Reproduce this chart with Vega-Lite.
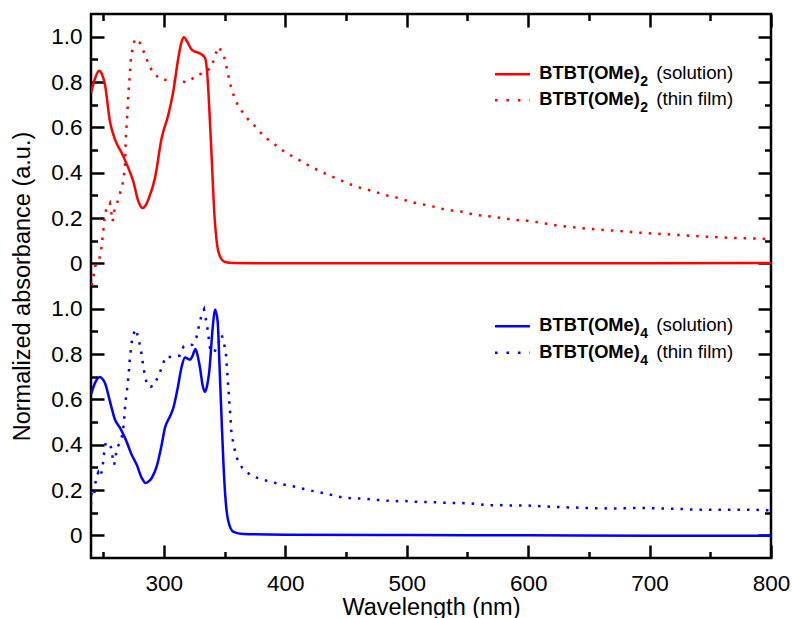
{
  "$schema": "https://vega.github.io/schema/vega-lite/v6.json",
  "autosize": {"type": "none"},
  "padding": {"left": 91, "top": 14, "right": 21, "bottom": 60},
  "width": 680,
  "height": 544,
  "background": "white",
  "datasets": {
    "redSolution": [
      {"nm":240,"a":0.752},{"nm":243,"a":0.81},{"nm":246.6,"a":0.85},{"nm":249,"a":0.835},{"nm":251.5,"a":0.788},{"nm":255.6,"a":0.626},{"nm":259.8,"a":0.546},{"nm":265.3,"a":0.487},{"nm":270.7,"a":0.421},{"nm":274.8,"a":0.362},{"nm":279,"a":0.274},{"nm":282.3,"a":0.244},{"nm":285,"a":0.255},{"nm":287.2,"a":0.281},{"nm":292.7,"a":0.377},{"nm":298.2,"a":0.553},{"nm":303.7,"a":0.656},{"nm":307.8,"a":0.759},{"nm":311.9,"a":0.906},{"nm":314.5,"a":0.975},{"nm":316.6,"a":0.997},{"nm":319,"a":0.98},{"nm":322.9,"a":0.943},{"nm":325,"a":0.935},{"nm":327,"a":0.932},{"nm":331.2,"a":0.921},{"nm":333.9,"a":0.906},{"nm":335.8,"a":0.832},{"nm":337.4,"a":0.685},{"nm":339.4,"a":0.465},{"nm":341.3,"a":0.244},{"nm":343.5,"a":0.097},{"nm":346.2,"a":0.031},{"nm":350.3,"a":0.006},{"nm":357,"a":0.001},{"nm":400,"a":0},{"nm":500,"a":0},{"nm":600,"a":0},{"nm":700,"a":0},{"nm":800,"a":0.001}
    ],
    "redFilm": [
      {"nm":240.5,"a":-0.098},{"nm":242,"a":-0.06},{"nm":243.3,"a":-0.013},{"nm":244.7,"a":0.0},{"nm":246.5,"a":0.01},{"nm":248.2,"a":0.053},{"nm":250.1,"a":0.141},{"nm":251.5,"a":0.222},{"nm":253.5,"a":0.25},{"nm":255.6,"a":0.266},{"nm":257.8,"a":0.185},{"nm":259.5,"a":0.24},{"nm":261.1,"a":0.259},{"nm":263.9,"a":0.31},{"nm":266.6,"a":0.362},{"nm":268,"a":0.435},{"nm":268.8,"a":0.568},{"nm":269.9,"a":0.656},{"nm":270.7,"a":0.744},{"nm":271.9,"a":0.825},{"nm":272.9,"a":0.906},{"nm":274.3,"a":0.95},{"nm":276.2,"a":0.991},{"nm":280.4,"a":0.972},{"nm":283.9,"a":0.928},{"nm":286.7,"a":0.887},{"nm":290.8,"a":0.844},{"nm":296.8,"a":0.813},{"nm":304.5,"a":0.807},{"nm":312.5,"a":0.801},{"nm":320.2,"a":0.8},{"nm":327.5,"a":0.832},{"nm":334,"a":0.84},{"nm":339.6,"a":0.869},{"nm":341.6,"a":0.91},{"nm":344.9,"a":0.955},{"nm":349,"a":0.925},{"nm":350.9,"a":0.884},{"nm":352.6,"a":0.843},{"nm":354.2,"a":0.8},{"nm":356.4,"a":0.759},{"nm":359.2,"a":0.715},{"nm":363.8,"a":0.674},{"nm":369.6,"a":0.634},{"nm":376.2,"a":0.599},{"nm":382.5,"a":0.559},{"nm":390.5,"a":0.528},{"nm":398.1,"a":0.497},{"nm":405.8,"a":0.472},{"nm":413.8,"a":0.449},{"nm":421.4,"a":0.425},{"nm":429.4,"a":0.405},{"nm":437.1,"a":0.386},{"nm":445,"a":0.368},{"nm":452.7,"a":0.35},{"nm":460.4,"a":0.335},{"nm":468.3,"a":0.324},{"nm":476.1,"a":0.312},{"nm":484,"a":0.299},{"nm":491.8,"a":0.29},{"nm":499.7,"a":0.277},{"nm":507.4,"a":0.266},{"nm":515.3,"a":0.258},{"nm":523,"a":0.249},{"nm":531,"a":0.238},{"nm":538.7,"a":0.232},{"nm":546.6,"a":0.227},{"nm":554.3,"a":0.216},{"nm":562.2,"a":0.21},{"nm":570,"a":0.206},{"nm":577.9,"a":0.2},{"nm":585.6,"a":0.194},{"nm":593.5,"a":0.19},{"nm":601.3,"a":0.187},{"nm":624.9,"a":0.166},{"nm":648.2,"a":0.153},{"nm":671.5,"a":0.144},{"nm":694.8,"a":0.134},{"nm":718.2,"a":0.127},{"nm":741.5,"a":0.119},{"nm":764.8,"a":0.113},{"nm":788.2,"a":0.109},{"nm":800,"a":0.107}
    ],
    "blueSolution": [
      {"nm":240,"a":0.621},{"nm":243.3,"a":0.672},{"nm":247.4,"a":0.699},{"nm":249.5,"a":0.69},{"nm":251.5,"a":0.672},{"nm":255.6,"a":0.591},{"nm":259.8,"a":0.51},{"nm":263.9,"a":0.474},{"nm":268,"a":0.43},{"nm":273.5,"a":0.356},{"nm":277.6,"a":0.312},{"nm":281.8,"a":0.253},{"nm":285,"a":0.231},{"nm":287.5,"a":0.238},{"nm":290,"a":0.253},{"nm":294.1,"a":0.304},{"nm":298.2,"a":0.4},{"nm":300.9,"a":0.474},{"nm":305.1,"a":0.525},{"nm":307.8,"a":0.562},{"nm":311.4,"a":0.65},{"nm":314.7,"a":0.745},{"nm":317.4,"a":0.785},{"nm":319.5,"a":0.78},{"nm":321.5,"a":0.775},{"nm":323.5,"a":0.79},{"nm":326,"a":0.822},{"nm":327.5,"a":0.8},{"nm":329.8,"a":0.738},{"nm":332,"a":0.66},{"nm":333.9,"a":0.633},{"nm":335.6,"a":0.66},{"nm":337.4,"a":0.723},{"nm":340.2,"a":0.915},{"nm":342.1,"a":0.996},{"nm":344.3,"a":0.944},{"nm":345.7,"a":0.768},{"nm":347.3,"a":0.547},{"nm":349,"a":0.326},{"nm":350.7,"a":0.165},{"nm":353.1,"a":0.062},{"nm":357.3,"a":0.015},{"nm":365.4,"a":0.006},{"nm":400,"a":0.003},{"nm":500,"a":0.001},{"nm":600,"a":0},{"nm":700,"a":-0.002},{"nm":800,"a":-0.002}
    ],
    "blueFilm": [
      {"nm":240,"a":0.135},{"nm":240.6,"a":0.194},{"nm":242.7,"a":0.18},{"nm":243.3,"a":0.221},{"nm":244.7,"a":0.26},{"nm":246,"a":0.278},{"nm":247.4,"a":0.26},{"nm":249.3,"a":0.287},{"nm":250.1,"a":0.331},{"nm":251,"a":0.371},{"nm":252.1,"a":0.409},{"nm":254.2,"a":0.409},{"nm":256.5,"a":0.388},{"nm":257.8,"a":0.344},{"nm":259.2,"a":0.312},{"nm":260.3,"a":0.349},{"nm":261.4,"a":0.388},{"nm":263.3,"a":0.403},{"nm":265.3,"a":0.432},{"nm":266.4,"a":0.466},{"nm":267.2,"a":0.503},{"nm":267.8,"a":0.547},{"nm":268.3,"a":0.588},{"nm":269.4,"a":0.628},{"nm":270.2,"a":0.672},{"nm":271.1,"a":0.712},{"nm":271.5,"a":0.753},{"nm":272.4,"a":0.797},{"nm":273.2,"a":0.838},{"nm":274.3,"a":0.882},{"nm":277.1,"a":0.91},{"nm":279,"a":0.868},{"nm":280.9,"a":0.827},{"nm":282,"a":0.785},{"nm":283.1,"a":0.743},{"nm":284.5,"a":0.701},{"nm":286.4,"a":0.66},{"nm":289,"a":0.655},{"nm":292.1,"a":0.662},{"nm":295.4,"a":0.704},{"nm":298.7,"a":0.745},{"nm":301.2,"a":0.787},{"nm":307.3,"a":0.787},{"nm":313,"a":0.793},{"nm":316.3,"a":0.834},{"nm":323.6,"a":0.841},{"nm":327,"a":0.876},{"nm":328.7,"a":0.919},{"nm":330.6,"a":0.962},{"nm":333.1,"a":0.996},{"nm":334.7,"a":0.951},{"nm":336.1,"a":0.907},{"nm":336.9,"a":0.871},{"nm":338,"a":0.827},{"nm":341.3,"a":0.805},{"nm":344.9,"a":0.849},{"nm":347.6,"a":0.885},{"nm":349.8,"a":0.841},{"nm":351.2,"a":0.797},{"nm":351.7,"a":0.756},{"nm":352.3,"a":0.713},{"nm":352.8,"a":0.672},{"nm":353.4,"a":0.631},{"nm":353.9,"a":0.588},{"nm":354.5,"a":0.547},{"nm":355,"a":0.506},{"nm":355.5,"a":0.463},{"nm":356.7,"a":0.422},{"nm":358.3,"a":0.378},{"nm":360.5,"a":0.337},{"nm":364.6,"a":0.297},{"nm":371.8,"a":0.263},{"nm":379.4,"a":0.249},{"nm":387.4,"a":0.237},{"nm":395.1,"a":0.227},{"nm":403.5,"a":0.22},{"nm":411.3,"a":0.21},{"nm":419,"a":0.2},{"nm":426.7,"a":0.191},{"nm":434.6,"a":0.183},{"nm":442.3,"a":0.172},{"nm":450,"a":0.165},{"nm":458,"a":0.162},{"nm":465.6,"a":0.162},{"nm":473.6,"a":0.157},{"nm":481.5,"a":0.154},{"nm":489.3,"a":0.15},{"nm":497.2,"a":0.152},{"nm":504.9,"a":0.149},{"nm":512.8,"a":0.147},{"nm":520.6,"a":0.147},{"nm":528.5,"a":0.144},{"nm":536.2,"a":0.143},{"nm":544.1,"a":0.143},{"nm":551.9,"a":0.141},{"nm":559.8,"a":0.137},{"nm":567.5,"a":0.132},{"nm":575.2,"a":0.134},{"nm":583.1,"a":0.132},{"nm":590.8,"a":0.132},{"nm":598.8,"a":0.132},{"nm":623.5,"a":0.125},{"nm":646.8,"a":0.121},{"nm":670.2,"a":0.118},{"nm":693.5,"a":0.121},{"nm":716.8,"a":0.118},{"nm":740.1,"a":0.113},{"nm":763.5,"a":0.113},{"nm":786.8,"a":0.113},{"nm":800,"a":0.11}
    ],
    "legend": [
      {"key":"redSol","name":"BTBT(OMe)","sub":"2","desc":"(solution)"},
      {"key":"redFilm","name":"BTBT(OMe)","sub":"2","desc":"(thin film)"},
      {"key":"blueSol","name":"BTBT(OMe)","sub":"4","desc":"(solution)"},
      {"key":"blueFilm","name":"BTBT(OMe)","sub":"4","desc":"(thin film)"}
    ],
    "blank": [{}]
  },
  "layer": [
    {
      "data": {"name": "blank"},
      "mark": {"type": "point", "opacity": 0},
      "encoding": {
        "x": {"datum": 240, "type": "quantitative", "scale": {"domain": [240, 800], "nice": false, "zero": false},
              "axis": {"orient": "bottom", "values": [250, 350, 450, 550, 650, 750], "tickSize": -6.5, "labels": false, "title": null}},
        "y": {"datum": 0, "type": "quantitative", "scale": {"domain": [-0.1, 2.3], "nice": false, "zero": false},
              "axis": {"orient": "left", "values": [0.1, 0.3, 0.5, 0.7, 0.9, 1.1, 1.3, 1.5, 1.7, 1.9, 2.1], "tickSize": -6.5, "labels": false, "title": null}}
      }
    },
    {
      "data": {"name": "blank"},
      "mark": {"type": "point", "opacity": 0},
      "encoding": {
        "x": {"datum": 240, "type": "quantitative", "scale": {"domain": [240, 800], "nice": false, "zero": false},
              "axis": {"orient": "top", "values": [250, 350, 450, 550, 650, 750], "tickSize": -6.5, "labels": false, "title": null}},
        "y": {"datum": 0, "type": "quantitative", "scale": {"domain": [-0.1, 2.3], "nice": false, "zero": false},
              "axis": {"orient": "right", "values": [0.1, 0.3, 0.5, 0.7, 0.9, 1.1, 1.3, 1.5, 1.7, 1.9, 2.1], "tickSize": -6.5, "labels": false, "title": null}}
      }
    },
    {
      "layer": [
        {
          "data": {"name": "redSolution"},
          "mark": {"type": "line", "color": "#ff0000", "strokeWidth": 2.5, "interpolate": "monotone", "clip": true},
          "encoding": {
            "x": {"field": "nm", "type": "quantitative", "scale": {"domain": [240, 800], "nice": false, "zero": false},
                  "axis": {"orient": "top", "values": [300, 400, 500, 600, 700, 800], "tickSize": -13, "labels": false, "title": null}},
            "y": {"field": "a", "type": "quantitative", "scale": {"domain": [-1.3, 1.1], "nice": false, "zero": false},
                  "axis": {"orient": "right", "values": [-1.2, -1.0, -0.8, -0.6, -0.4, -0.2, 0, 0.2, 0.4, 0.6, 0.8, 1.0], "tickSize": -13, "labels": false, "title": null}}
          }
        },
        {
          "data": {"name": "redFilm"},
          "mark": {"type": "line", "color": "#ff0000", "strokeWidth": 2.5, "strokeDash": [2.5, 7], "clip": true},
          "encoding": {
            "x": {"field": "nm", "type": "quantitative"},
            "y": {"field": "a", "type": "quantitative"}
          }
        },
        {
          "data": {"name": "legend"},
          "transform": [{"filter": "datum.key === 'redSol'"}],
          "encoding": {"x": {"datum": 609.2, "type": "quantitative"}, "y": {"datum": 0.834, "type": "quantitative"}},
          "layer": [
            {"mark": {"type": "rule", "color": "#ff0000", "strokeWidth": 2.5}, "encoding": {"x": {"datum": 572.7, "type": "quantitative"}, "x2": {"datum": 601.5}}},
            {"mark": {"type": "text", "align": "left", "baseline": "alphabetic", "dy": 4.8, "fontWeight": "bold", "fontSize": 18.3}, "encoding": {"text": {"field": "name"}}},
            {"mark": {"type": "text", "align": "left", "baseline": "alphabetic", "dx": 101, "dy": 11.8, "fontWeight": "bold", "fontSize": 14}, "encoding": {"text": {"field": "sub"}}},
            {"mark": {"type": "text", "align": "left", "baseline": "alphabetic", "dx": 117, "dy": 4.8, "fontSize": 18.7}, "encoding": {"text": {"field": "desc"}}}
          ]
        },
        {
          "data": {"name": "legend"},
          "transform": [{"filter": "datum.key === 'redFilm'"}],
          "encoding": {"x": {"datum": 609.2, "type": "quantitative"}, "y": {"datum": 0.72, "type": "quantitative"}},
          "layer": [
            {"mark": {"type": "rule", "color": "#ff0000", "strokeWidth": 2.5, "strokeDash": [2.5, 9]}, "encoding": {"x": {"datum": 572.7, "type": "quantitative"}, "x2": {"datum": 601.5}}},
            {"mark": {"type": "text", "align": "left", "baseline": "alphabetic", "dy": 4.8, "fontWeight": "bold", "fontSize": 18.3}, "encoding": {"text": {"field": "name"}}},
            {"mark": {"type": "text", "align": "left", "baseline": "alphabetic", "dx": 101, "dy": 11.8, "fontWeight": "bold", "fontSize": 14}, "encoding": {"text": {"field": "sub"}}},
            {"mark": {"type": "text", "align": "left", "baseline": "alphabetic", "dx": 117, "dy": 4.8, "fontSize": 18.7}, "encoding": {"text": {"field": "desc"}}}
          ]
        }
      ]
    },
    {
      "layer": [
        {
          "data": {"name": "blueSolution"},
          "mark": {"type": "line", "color": "#0000ff", "strokeWidth": 2.5, "interpolate": "monotone", "clip": true},
          "encoding": {
            "x": {"field": "nm", "type": "quantitative", "scale": {"domain": [240, 800], "nice": false, "zero": false},
                  "axis": {"orient": "bottom", "values": [300, 400, 500, 600, 700, 800], "tickSize": -13, "labelPadding": 27, "labelFlush": false, "title": "Wavelength (nm)", "titleBaseline": "alphabetic", "titleY": 56}},
            "y": {"field": "a", "type": "quantitative", "scale": {"domain": [-0.1, 2.3], "nice": false, "zero": false},
                  "axis": {"orient": "left", "values": [0, 0.2, 0.4, 0.6, 0.8, 1.0, 1.2, 1.4, 1.6, 1.8, 2.0, 2.2], "tickSize": -13, "labelPadding": 22, "labelFlush": false,
                           "labelExpr": "(abs(datum.value) < 0.001 || abs(datum.value - 1.2) < 0.001) ? '0' : format(datum.value > 1.1 ? datum.value - 1.2 : datum.value, '.1f')",
                           "title": "Normalized absorbance (a.u.)", "titlePadding": 16}}
          }
        },
        {
          "data": {"name": "blueFilm"},
          "mark": {"type": "line", "color": "#0000ff", "strokeWidth": 2.5, "strokeDash": [2.5, 7], "clip": true},
          "encoding": {
            "x": {"field": "nm", "type": "quantitative"},
            "y": {"field": "a", "type": "quantitative"}
          }
        },
        {
          "data": {"name": "legend"},
          "transform": [{"filter": "datum.key === 'blueSol'"}],
          "encoding": {"x": {"datum": 609.2, "type": "quantitative"}, "y": {"datum": 0.922, "type": "quantitative"}},
          "layer": [
            {"mark": {"type": "rule", "color": "#0000ff", "strokeWidth": 2.5}, "encoding": {"x": {"datum": 572.7, "type": "quantitative"}, "x2": {"datum": 601.5}}},
            {"mark": {"type": "text", "align": "left", "baseline": "alphabetic", "dy": 4.8, "fontWeight": "bold", "fontSize": 18.3}, "encoding": {"text": {"field": "name"}}},
            {"mark": {"type": "text", "align": "left", "baseline": "alphabetic", "dx": 101, "dy": 11.8, "fontWeight": "bold", "fontSize": 14}, "encoding": {"text": {"field": "sub"}}},
            {"mark": {"type": "text", "align": "left", "baseline": "alphabetic", "dx": 117, "dy": 4.8, "fontSize": 18.7}, "encoding": {"text": {"field": "desc"}}}
          ]
        },
        {
          "data": {"name": "legend"},
          "transform": [{"filter": "datum.key === 'blueFilm'"}],
          "encoding": {"x": {"datum": 609.2, "type": "quantitative"}, "y": {"datum": 0.805, "type": "quantitative"}},
          "layer": [
            {"mark": {"type": "rule", "color": "#0000ff", "strokeWidth": 2.5, "strokeDash": [2.5, 9]}, "encoding": {"x": {"datum": 572.7, "type": "quantitative"}, "x2": {"datum": 601.5}}},
            {"mark": {"type": "text", "align": "left", "baseline": "alphabetic", "dy": 4.8, "fontWeight": "bold", "fontSize": 18.3}, "encoding": {"text": {"field": "name"}}},
            {"mark": {"type": "text", "align": "left", "baseline": "alphabetic", "dx": 101, "dy": 11.8, "fontWeight": "bold", "fontSize": 14}, "encoding": {"text": {"field": "sub"}}},
            {"mark": {"type": "text", "align": "left", "baseline": "alphabetic", "dx": 117, "dy": 4.8, "fontSize": 18.7}, "encoding": {"text": {"field": "desc"}}}
          ]
        }
      ]
    }
  ],
  "resolve": {"scale": {"x": "independent", "y": "independent"}},
  "config": {
    "font": "Liberation Sans",
    "view": {"stroke": "#000000", "strokeWidth": 2.5},
    "axis": {
      "domain": false, "grid": false,
      "tickColor": "#000000", "tickWidth": 2.5,
      "labelColor": "#000000", "titleColor": "#000000",
      "labelFont": "Liberation Sans", "titleFont": "Liberation Sans",
      "labelFontSize": 22.5, "titleFontSize": 23.5, "titleFontWeight": "normal",
      "labelOverlap": false
    },
    "text": {"font": "Liberation Sans", "color": "#000000"}
  }
}
